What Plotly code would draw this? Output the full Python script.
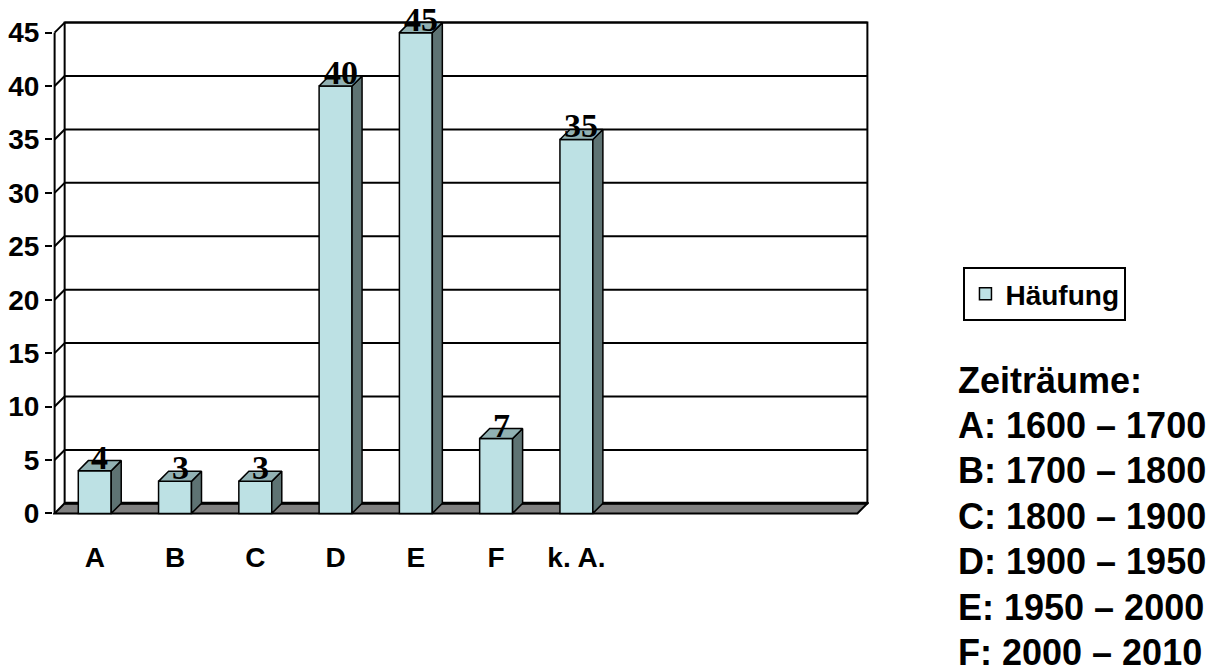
import plotly.graph_objects as go

# ---- data ----
categories = ["A", "B", "C", "D", "E", "F", "k. A.", "", "", ""]
values = [4, 3, 3, 40, 45, 7, 35, None, None, None]
y_ticks = [0, 5, 10, 15, 20, 25, 30, 35, 40, 45]
series_name = "Häufung"
period_lines = ["Zeiträume:", "A: 1600 – 1700", "B: 1700 – 1800", "C: 1800 – 1900",
                "D: 1900 – 1950", "E: 1950 – 2000", "F: 2000 – 2010"]

# ---- style / geometry ----
OFF = 8                      # page body margin of the exported html
W, H = 1216 - OFF, 666 - OFF
DX = 0.125     # depth offset along x (category units)
DY = 0.94      # depth offset along y (value units)
PADX, PADY = 0.02, 0.15
BAR_W = 0.41
FRONT = "#BDE1E4"
TOP = "#91B1B3"
SIDE = "#5E7373"
FLOOR = "#808080"
NARROW = "Liberation Sans Narrow, Arial Narrow, Liberation Sans, Arial"
SANS = "Liberation Sans, Arial"
SERIF = "Liberation Serif, Times New Roman"

n = len(categories)
xs = list(range(n))
ymax = max(y_ticks)
x_range = [-0.5 - PADX, n - 0.5 + DX + PADX]
y_range = [-PADY, ymax + DY + PADY]

# target placement (reference pixels): x=-0.5 at 55, x=n-0.5 at 857; y=0 at 513, y=45 at 33
px_x = (857 - 55) / n
px_y = (513 - 33) / ymax
plot_left = 55 - PADX * px_x - OFF
plot_right = 55 + (x_range[1] + 0.5) * px_x - OFF
plot_bottom = 513 + PADY * px_y - OFF
plot_top = 513 - y_range[1] * px_y - OFF
L, R, T, B = plot_left, W - plot_right, plot_top, H - plot_bottom
plot_w = plot_right - plot_left
plot_h = plot_bottom - plot_top


def paper_x(px):
    return (px - OFF - plot_left) / plot_w


def paper_y(py):
    return (plot_bottom - (py - OFF)) / plot_h


fig = go.Figure()

# front faces
fig.add_trace(go.Bar(
    x=xs, y=values, width=BAR_W, name=series_name,
    marker=dict(color=FRONT, line=dict(color="black", width=1.5)),
    showlegend=True,
))

# side and top faces built from the values
sx, sy, tx, ty = [], [], [], []
for i, v in zip(xs, values):
    if v is None:
        continue
    r = i + BAR_W / 2
    l = i - BAR_W / 2
    sx += [r, r + DX, r + DX, r, r, None]
    sy += [0, DY, v + DY, v, 0, None]
    tx += [l, r, r + DX, l + DX, l, None]
    ty += [v, v, v + DY, v + DY, v, None]
fig.add_trace(go.Scatter(x=sx, y=sy, mode="lines", fill="toself", fillcolor=SIDE,
                         line=dict(color="black", width=1.5), showlegend=False,
                         hoverinfo="skip"))
fig.add_trace(go.Scatter(x=tx, y=ty, mode="lines", fill="toself", fillcolor=TOP,
                         line=dict(color="black", width=1.5), showlegend=False,
                         hoverinfo="skip"))

annotations = []
# data labels
for i, v in zip(xs, values):
    if v is None:
        continue
    annotations.append(dict(
        xref="x", yref="y", x=i + DX / 2, y=v, text=str(v), showarrow=False,
        xanchor="center", yanchor="bottom", yshift=-7,
        font=dict(family=SERIF, size=34, color="black", weight="bold")))

# walls / floor / gridlines
shapes = []
xl, xrgt = -0.5, n - 0.5
shapes.append(dict(type="rect", xref="x", yref="y", x0=xl + DX, x1=xrgt + DX,
                   y0=DY, y1=ymax + DY, fillcolor="white",
                   line=dict(color="black", width=2), layer="below"))
for t in y_ticks[1:]:
    shapes.append(dict(type="line", xref="x", yref="y", x0=xl + DX, x1=xrgt + DX,
                       y0=t + DY, y1=t + DY, line=dict(color="black", width=2),
                       layer="below"))
    shapes.append(dict(type="line", xref="x", yref="y", x0=xl, x1=xl + DX,
                       y0=t, y1=t + DY, line=dict(color="black", width=2),
                       layer="below"))
shapes.append(dict(type="line", xref="x", yref="y", x0=xl, x1=xl, y0=0, y1=ymax,
                   line=dict(color="black", width=2), layer="below"))
shapes.append(dict(type="path", xref="x", yref="y",
                   path=f"M {xl},0 L {xrgt},0 L {xrgt + DX},{DY} L {xl + DX},{DY} Z",
                   fillcolor=FLOOR, line=dict(color="black", width=2), layer="below"))
shapes.append(dict(type="line", xref="x", yref="y", x0=xl + DX, x1=xrgt + DX,
                   y0=DY, y1=DY, line=dict(color="black", width=3), layer="below"))

# period annotations (right side)
first_center, spacing = 380, 45.3
for k, line in enumerate(period_lines):
    annotations.append(dict(
        xref="paper", yref="paper", x=paper_x(956), y=paper_y(first_center + k * spacing),
        xanchor="left", yanchor="middle", text=line, showarrow=False,
        font=dict(family=SANS, size=36, color="black", weight="bold")))

fig.update_layout(
    width=W, height=H, autosize=False,
    margin=dict(l=L, r=R, t=T, b=B, pad=0, autoexpand=False),
    paper_bgcolor="white", plot_bgcolor="white",
    shapes=shapes, annotations=annotations,
    xaxis=dict(range=x_range, tickmode="array", tickvals=xs, ticktext=categories,
               ticks="", showgrid=False, zeroline=False, showline=False,
               automargin=False, ticklabelstandoff=23,
               tickfont=dict(family=NARROW, size=28, color="black", weight="bold")),
    xaxis2=dict(range=x_range, overlaying="x", anchor="y", side="bottom",
                tickmode="array", tickvals=[i - 0.5 for i in range(n + 1)],
                ticks="outside", ticklen=9, tickwidth=2, tickcolor="black",
                automargin=False,
                showticklabels=False, showgrid=False, zeroline=False, showline=False),
    yaxis=dict(range=y_range, tickmode="array", tickvals=y_ticks,
               ticks="outside", ticklen=7, tickwidth=2, tickcolor="black",
               showgrid=False, zeroline=False, showline=False, automargin=False,
               tickfont=dict(family=NARROW, size=28, color="black", weight="bold")),
    legend=dict(x=paper_x(963), y=paper_y(267), xanchor="left",
                yanchor="top", bordercolor="black", borderwidth=2, bgcolor="white",
                font=dict(family=NARROW, size=28, color="black", weight="bold")),
    showlegend=True,
)

fig.write_html("out.html")
